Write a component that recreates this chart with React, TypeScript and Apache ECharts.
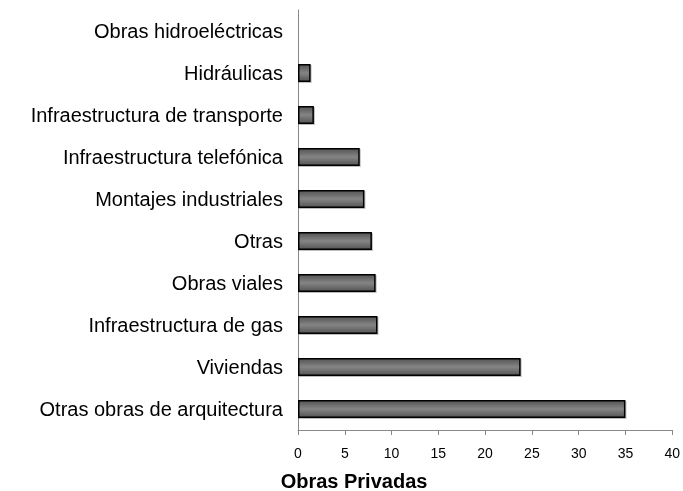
import React, { useEffect, useRef } from "react";
import * as echarts from "echarts";

const categories = [
  "Otras obras de arquitectura",
  "Viviendas",
  "Infraestructura de gas",
  "Obras viales",
  "Otras",
  "Montajes industriales",
  "Infraestructura telefónica",
  "Infraestructura de transporte",
  "Hidráulicas",
  "Obras hidroeléctricas",
];
const values = [35.0, 23.8, 8.5, 8.3, 7.9, 7.1, 6.6, 1.7, 1.35, 0];
const xTitle = "Obras Privadas";

export default function App() {
  const ref = useRef<HTMLDivElement>(null);
  useEffect(() => {
    const chart = echarts.init(ref.current!, null, { renderer: "svg" });
    chart.setOption({
      animation: false,
      grid: { left: 298, right: 9, top: 10, bottom: 61 },
      xAxis: {
        type: "value",
        min: 0,
        max: 40,
        interval: 5,
        axisLine: { show: true, lineStyle: { color: "#888", width: 1 } },
        axisTick: { show: true, length: 5, lineStyle: { color: "#888" } },
        axisLabel: { fontFamily: "Liberation Sans", fontSize: 14, color: "#000", margin: 16 },
        splitLine: { show: false },
      },
      yAxis: {
        type: "category",
        data: categories,
        axisLine: { show: true, lineStyle: { color: "#888", width: 1 } },
        axisTick: { show: false },
        axisLabel: { fontFamily: "Liberation Sans", fontSize: 20, color: "#000", margin: 15 },
      },
      graphic: [
        {
          type: "text",
          x: 354,
          y: 481,
          style: {
            text: xTitle,
            fontFamily: "Liberation Sans",
            fontSize: 20,
            fontWeight: "bold",
            fill: "#000",
            align: "center",
            verticalAlign: "middle",
          },
        },
      ],
      series: [
        {
          type: "bar",
          data: values,
          barWidth: 18,
          itemStyle: {
            color: new echarts.graphic.LinearGradient(0, 0, 0, 1, [
              { offset: 0, color: "#555" },
              { offset: 0.5, color: "#858585" },
              { offset: 1, color: "#555" },
            ]),
            borderColor: "#000",
            borderWidth: 1.5,
            shadowColor: "rgba(0,0,0,0.25)",
            shadowOffsetX: 1,
            shadowOffsetY: 1,
            shadowBlur: 1,
          },
        },
      ],
    });
    return () => chart.dispose();
  }, []);
  return (
    <div
      ref={ref}
      style={{ width: 683, height: 491, position: "fixed", left: 0, top: 0 }}
    />
  );
}
